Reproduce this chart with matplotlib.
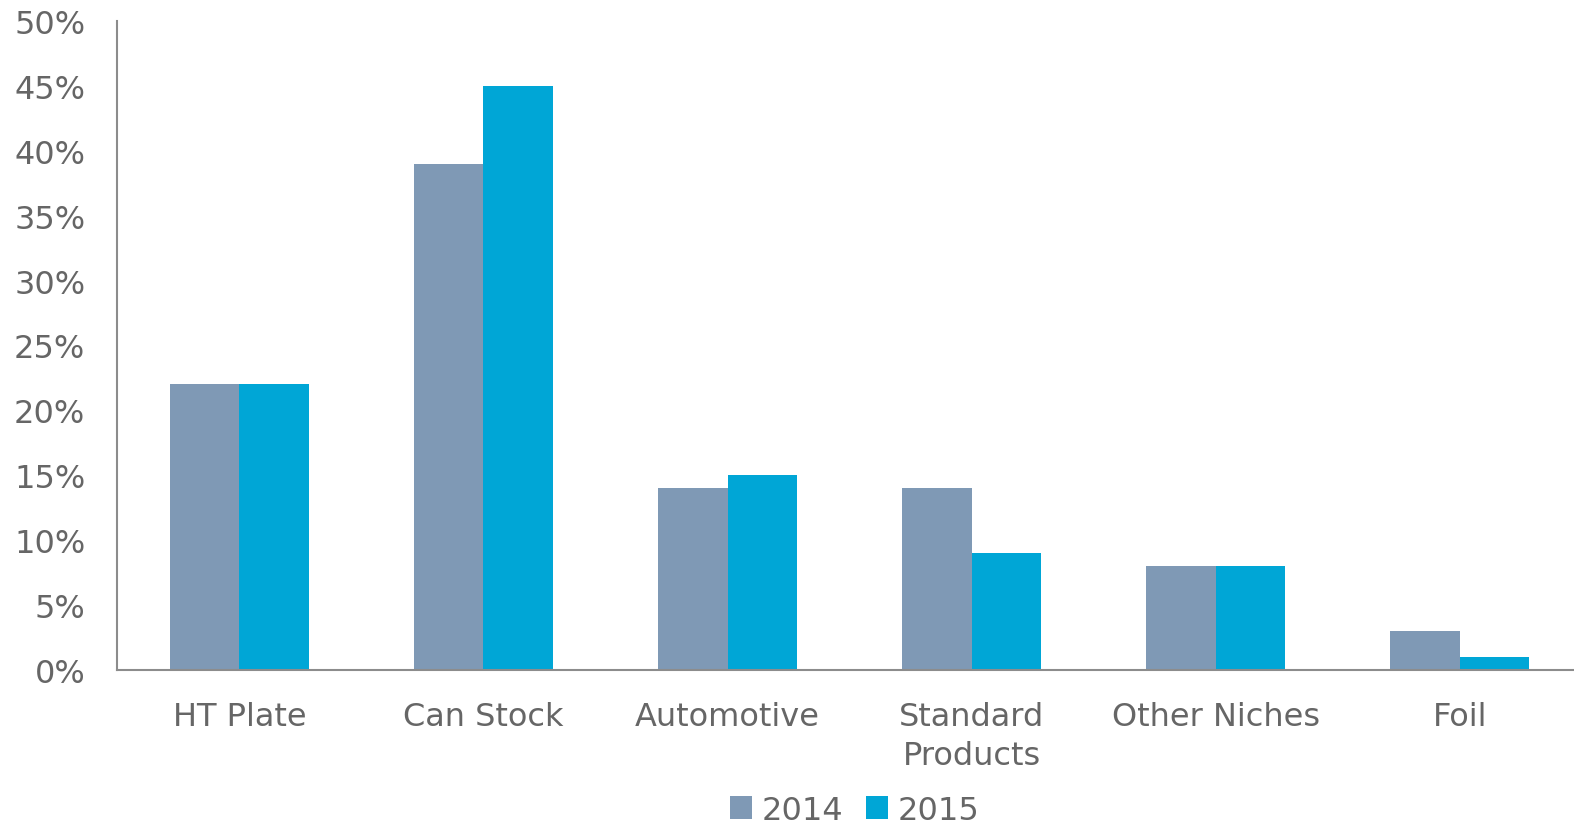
import numpy as np
import matplotlib.pyplot as plt
from matplotlib.ticker import PercentFormatter

# share by segment, percent
categories = ["HT Plate", "Can Stock", "Automotive", "Standard\nProducts", "Other Niches", "Foil"]
share_2014 = [22, 39, 14, 14, 8, 3]
share_2015 = [22, 45, 15, 9, 8, 1]

grey = "#666666"
plt.rcParams['font.family'] = ['DejaVu Sans']

fig = plt.figure(figsize=(15.74, 8.29), dpi=100)
ax = fig.add_axes([0.0745, 0.1906, 0.9305, 0.7829])

x = np.arange(len(categories))
w = 0.285
ax.bar(x - w/2, share_2014, w, color="#7f99b5", label="2014")
ax.bar(x + w/2, share_2015, w, color="#00a6d6", label="2015")

ax.set_xlim(-0.5, len(categories) - 0.5)
ax.set_ylim(0, 50)
ax.set_yticks(np.arange(0, 51, 5))
ax.yaxis.set_major_formatter(PercentFormatter(decimals=0))
ax.set_xticks(x)
ax.set_xticklabels(categories, linespacing=1.35)

ax.tick_params(axis="both", length=0, labelsize=23, labelcolor=grey)
ax.tick_params(axis="x", pad=22)
ax.tick_params(axis="y", pad=23)

for s in ["top", "right"]:
    ax.spines[s].set_visible(False)
for s in ["left", "bottom"]:
    ax.spines[s].set_color("#8c8c8c")
    ax.spines[s].set_linewidth(1.5)

leg = fig.legend(loc="lower center", bbox_to_anchor=(0.543, -0.032), ncol=2, frameon=False,
                 fontsize=23, handlelength=0.7, handleheight=0.7, handletextpad=0.3,
                 columnspacing=0.7, labelcolor=grey)

fig.savefig("out.png", dpi=100)
